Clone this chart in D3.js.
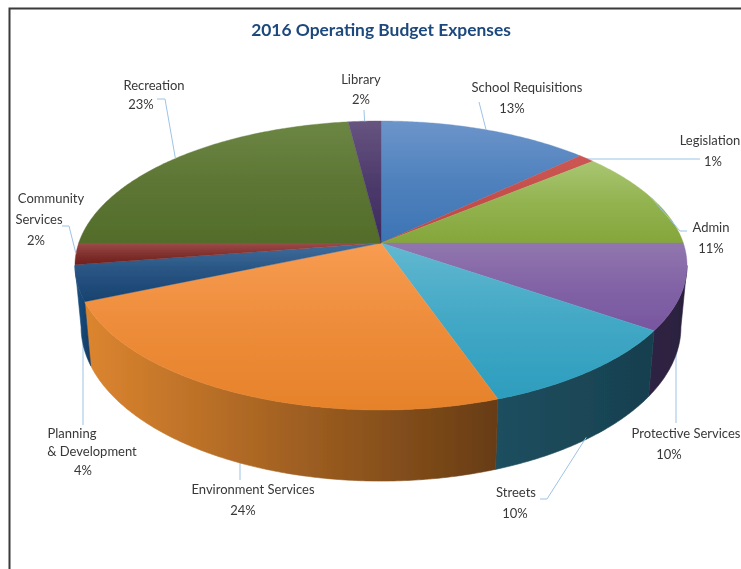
<!DOCTYPE html>
<html>
<head>
<meta charset="utf-8">
<script src="https://cdn.jsdelivr.net/npm/d3@7"></script>
<style>
html, body { margin: 0; padding: 0; background: #fff; }
svg { display: block; }
text { font-family: Lato, "Open Sans", sans-serif; }
</style>
</head>
<body>
<svg></svg>
<script>
var categories = ['School Requisitions', 'Legislation', 'Admin', 'Protective Services', 'Streets',
	'Environment Services', 'Planning & Development', 'Community Services', 'Recreation', 'Library'];
// the printed labels are these rounded
var values = [13, 1, 11, 9.6, 10.05, 23.95, 4, 2.4, 23, 2];
var topLight = ['#6c94ca', '#cc5653', '#a9c672', '#9176ae', '#62b8d0', '#f89c52', '#3f6d9c', '#9c4c4a', '#6c8644', '#675480'];
var topDark = ['#3c74b4', '#bd4845', '#84a63a', '#7856a0', '#2d9dbe', '#e6822a', '#17426f', '#701f1c', '#536c2a', '#3c2a5e'];
var sideLeft = [null, null, null, '#2f2344', '#1e4f60', '#dc852f', '#1c5286', null, null, null];
var sideRight = [null, null, null, '#2b1f3d', '#173f4e', '#673c14', '#123a63', null, null, null];

// label lines, % text and leader elbows, in page pixels
var labelLayout = [
	{ lines: [['School Requisitions', 527, 92], ['13%', 512, 113]], elbow: [[479, 102]] },
	{ lines: [['Legislation', 710, 145], ['1%', 713, 166]], elbow: [[700, 159]], snapY: 159 },
	{ lines: [['Admin', 711, 232], ['11%', 711, 253]], elbow: [[680, 231], [687, 231]] },
	{ lines: [['Protective Services', 686, 438], ['10%', 669, 459]], elbow: [[676, 423]], snapX: 676 },
	{ lines: [['Streets', 516, 497], ['10%', 515, 518]], elbow: [[547, 499], [540, 499]] },
	{ lines: [['Environment Services', 253, 494], ['24%', 243, 515]], elbow: [[240, 480]], snapX: 240 },
	{ lines: [['Planning', 72, 438], ['& Development', 92, 456], ['4%', 83, 475]], elbow: [[83, 425]], snapX: 83 },
	{ lines: [['Community', 51, 203], ['Services', 39, 224], ['2%', 36, 245]], elbow: [[69, 226], [62, 226]] },
	{ lines: [['Recreation', 154, 90], ['23%', 141, 109]], elbow: [[165, 99], [157, 99]] },
	{ lines: [['Library', 361, 84], ['2%', 361, 104]], elbow: [[364, 110]] }
];

var width = 741, height = 569;
var cx = 381, cy = 243, rx = 302.3, ry = 141, tilt = 0.1557, depth = 60, shrink = 0.02;

var svg = d3.select('svg').attr('width', width).attr('height', height);
var defs = svg.append('defs');

// the reference is a soft screenshot
defs.append('filter').attr('id', 'soft')
	.append('feGaussianBlur').attr('stdDeviation', 0.4);
var root = svg.append('g').attr('filter', 'url(#soft)');

// pie plane to screen, near edge drawn larger, bottom face a bit narrower
function project(a, drop) {
	var u = Math.sin(a), v = -Math.cos(a), w = 1 - tilt * v;
	return [cx + rx * u / w * (1 - shrink * drop), cy + ry * v / w + drop * depth / w];
}

function rim(a0, a1, drop) {
	var n = Math.max(2, Math.ceil(Math.abs(a1 - a0) / 0.01));
	return d3.range(n + 1).map(function(i) {
		return project(a0 + (a1 - a0) * i / n, drop);
	});
}

var line = d3.line();
var slices = d3.pie().sort(null).value(function(d) { return d; })(values);

// frame
root.append('path')
	.attr('d', 'M9.5,569V8.5H741')
	.attr('fill', 'none')
	.attr('stroke', '#3a3a3a')
	.attr('stroke-width', 2);

root.append('text')
	.attr('x', 381)
	.attr('y', 36)
	.attr('text-anchor', 'middle')
	.attr('font-size', 17.4)
	.attr('font-weight', 700)
	.attr('fill', '#1f497d')
	.text('2016 Operating Budget Expenses');

function drawLeaders(under) {
	root.append('g')
		.selectAll('path')
		.data(slices.filter(function(d, i) {
			var l = labelLayout[i];
			return !!(l.snapX || l.snapY) === under;
		}))
		.enter()
		.append('path')
		.attr('fill', 'none')
		.attr('stroke', '#9dc3e6')
		.attr('stroke-width', 1)
		.attr('d', function(d) {
			var i = d.index;
			var mid = (d.startAngle + d.endAngle) / 2;
			var front = i >= 3 && i <= 6;
			var p = project(mid, front ? 0.97 : 0);
			var l = labelLayout[i];
			if (l.snapX) p = [l.snapX, p[1]];
			if (l.snapY) p = [p[0], l.snapY];
			return line([p].concat(l.elbow));
		});
}

// these start behind the pie
drawLeaders(true);

// side walls, between the two points where the outline turns back
var lo = Math.acos(-tilt), hi = Math.PI * 2 - lo;
slices.forEach(function(d, i) {
	if (!sideLeft[i]) return;
	var a0 = Math.max(d.startAngle, lo), a1 = Math.min(d.endAngle, hi);
	var pts = rim(a0, a1, 0).concat(rim(a1, a0, 1));
	var ext = d3.extent(pts, function(p) { return p[0]; });
	var id = 'side' + i;
	var grad = defs.append('linearGradient').attr('id', id)
		.attr('gradientUnits', 'userSpaceOnUse')
		.attr('x1', ext[0]).attr('x2', ext[1]).attr('y1', 0).attr('y2', 0);
	grad.append('stop').attr('offset', 0).attr('stop-color', sideLeft[i]);
	grad.append('stop').attr('offset', 1).attr('stop-color', sideRight[i]);
	root.append('path')
		.attr('d', line(pts) + 'Z')
		.attr('fill', 'url(#' + id + ')')
		.attr('stroke', 'url(#' + id + ')')
		.attr('stroke-width', 0.6);
});

// top faces
slices.forEach(function(d, i) {
	var id = 'top' + i;
	var grad = defs.append('linearGradient').attr('id', id)
		.attr('x1', 0).attr('x2', 0).attr('y1', 0).attr('y2', 1);
	grad.append('stop').attr('offset', 0).attr('stop-color', topLight[i]);
	grad.append('stop').attr('offset', 0.5).attr('stop-color', d3.interpolateRgb(topLight[i], topDark[i])(0.6));
	grad.append('stop').attr('offset', 1).attr('stop-color', topDark[i]);
	root.append('path')
		.attr('d', line([[cx, cy]].concat(rim(d.startAngle, d.endAngle, 0))) + 'Z')
		.attr('fill', 'url(#' + id + ')')
		.attr('stroke', 'url(#' + id + ')')
		.attr('stroke-width', 0.4);
});

drawLeaders(false);

// labels
labelLayout.forEach(function(l) {
	l.lines.forEach(function(t) {
		root.append('text')
			.attr('x', t[1])
			.attr('y', t[2])
			.attr('text-anchor', 'middle')
			.attr('font-size', 13)
			.attr('fill', '#383838')
			.text(t[0]);
	});
});
</script>
</body>
</html>
